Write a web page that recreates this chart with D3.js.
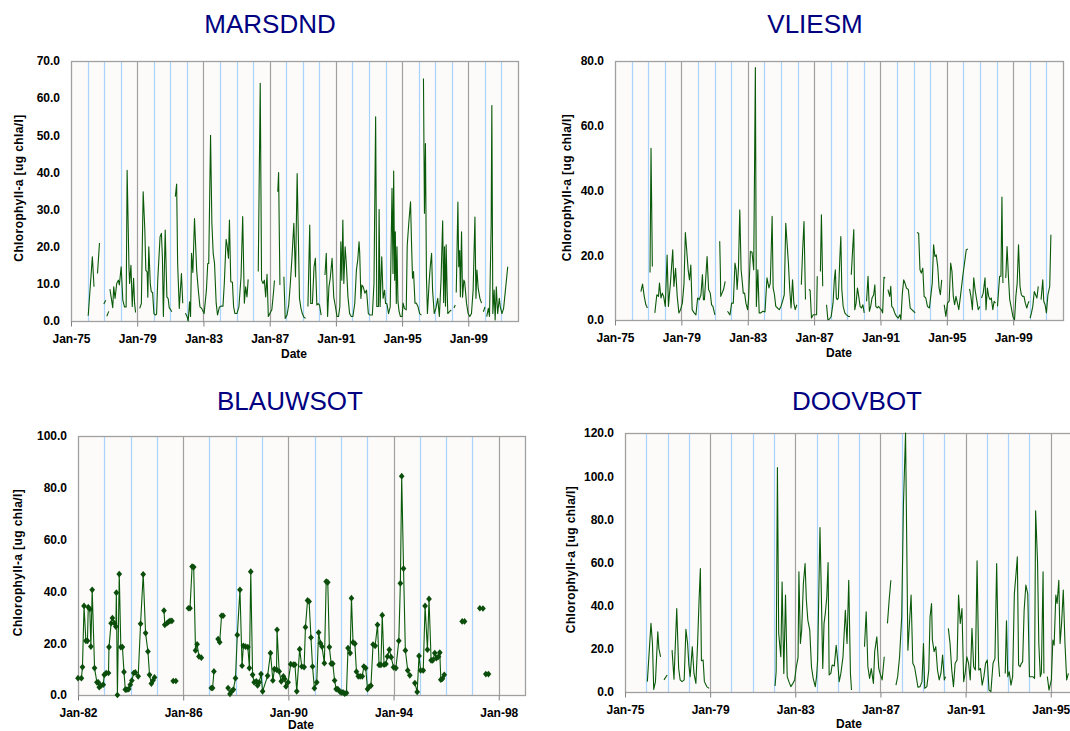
<!DOCTYPE html>
<html>
<head>
<meta charset="utf-8">
<script src="https://cdn.jsdelivr.net/npm/d3@7"></script>
<style>
  body { margin: 0; background: #fff; }
  svg { display: block; font-family: Arial, "Liberation Sans", sans-serif; }
  .tick text { font-size: 12px; font-weight: bold; fill: #000; }
  .tick line { stroke: #808080; }
</style>
</head>
<body>
<svg id="chart" width="1070" height="731"></svg>
<script>
// station series: [decimal year, chlorophyll-a], null = gap in the line
var marsdnd = [
  [1976.04,1.4],[1976.29,17.3],[1976.39,9.2],null,
  [1976.6,12.8],[1976.72,21],null,
  [1976.98,4.6],[1977.1,5.6],null,
  [1977.16,1.3],[1977.28,2.6],null,
  [1977.35,8.6],[1977.52,3.6],[1977.58,9.2],[1977.66,6.1],[1977.76,10.1],[1977.86,11],[1977.92,9.7],[1978.03,14.6],[1978.13,5.6],[1978.23,3.8],[1978.33,3.8],[1978.39,40.6],[1978.5,14.6],[1978.54,10.1],[1978.62,15],[1978.7,3.9],[1978.78,11.5],[1978.84,4.8],[1978.9,2.3],null,
  [1979.15,3.4],[1979.25,4.7],[1979.36,34.8],[1979.46,24.5],[1979.52,13.7],[1979.6,13.2],[1979.64,6.4],[1979.7,20],[1979.79,10],[1979.85,7.9],[1979.93,7.7],[1980.01,2],[1980.09,1.6],[1980.17,1.8],[1980.24,11],[1980.38,22.7],[1980.46,23.6],[1980.52,17.3],[1980.58,1.2],[1980.69,24.5],[1980.79,6.5],[1980.87,6],[1980.93,3.6],[1981.09,2.5],null,
  [1981.3,33.5],[1981.38,36.9],[1981.44,15.5],[1981.54,3.4],[1981.67,12.8],[1981.75,4.8],null,
  [1981.91,2.1],[1982.01,1.2],[1982.08,0],[1982.16,5.2],[1982.22,1.2],[1982.28,18.2],[1982.36,13.1],[1982.46,27.6],[1982.59,13.7],[1982.69,8.3],[1982.79,3.8],[1982.89,3.4],[1983.04,2],[1983.18,8.3],[1983.26,15.5],[1983.32,15.5],[1983.43,50],[1983.51,26.3],[1983.59,18.2],[1983.67,15.5],[1983.77,4.8],[1983.85,1.6],[1983.96,3.7],[1984.06,4],[1984.18,4],[1984.26,10.1],[1984.37,22],[1984.43,20.4],[1984.51,16.9],[1984.57,27.2],[1984.65,10.6],[1984.75,10.4],[1984.82,3.9],[1984.9,2],[1985.02,2],[1985.14,3.8],[1985.27,11.9],[1985.37,28.1],[1985.47,4.8],[1985.55,9.2],[1985.63,6.5],[1985.7,11.2],null,
  [1986.31,13.3],[1986.43,64],[1986.51,11],[1986.6,10.1],[1986.68,11],[1986.76,6.5],[1986.84,12.6],[1986.92,1.2],[1987.02,2.1],[1987.13,3],[1987.23,7.6],[1987.29,10.9],null,
  [1987.49,34.8],[1987.54,40],[1987.62,9.7],null,
  [1987.86,11.9],[1987.94,0.7],[1988.05,1.6],[1988.15,4.3],[1988.25,10.1],[1988.35,17.3],[1988.46,26.3],[1988.56,11.9],[1988.66,39.7],[1988.74,20.9],[1988.8,6.1],[1988.89,3.4],[1988.97,2],[1989.07,1],[1989.17,0.7],null,
  [1989.31,3.9],[1989.42,25.8],[1989.48,4.7],[1989.58,4.7],[1989.68,14.6],[1989.76,16.9],[1989.85,4.3],[1989.93,4.7],[1990.01,4.3],[1990.11,1.6],null,
  [1990.34,12.4],[1990.42,18.2],[1990.5,1.2],[1990.58,9.2],[1990.66,11.5],[1990.77,16.9],[1990.87,6.5],[1990.97,3.9],[1991.07,1.2],[1991.16,1.2],[1991.24,3.9],[1991.3,21.3],[1991.36,11],[1991.42,27.2],[1991.48,10.1],[1991.56,20],[1991.63,15.5],[1991.73,6.5],[1991.83,2],[1991.93,1.2],[1992.03,1.2],[1992.14,4.7],[1992.24,13.7],[1992.32,16.4],[1992.4,21.3],[1992.44,18.2],[1992.51,6.1],[1992.57,9.7],[1992.65,9.2],[1992.75,7.5],[1992.85,8.3],[1992.96,2],[1993.06,1.6],[1993.2,1.6],[1993.3,10.1],[1993.4,55],[1993.47,3.9],[1993.57,3.9],[1993.61,30],[1993.67,3.9],[1993.77,17.3],[1993.85,6.1],[1993.94,8.3],[1994,4.7],[1994.08,4.7],[1994.18,2],[1994.28,3.8],[1994.39,35.7],[1994.45,12.8],[1994.49,40.4],[1994.55,11],[1994.59,24],[1994.65,4.7],[1994.69,20],[1994.75,5.2],[1994.82,2.5],[1994.9,1.2],[1995,1.2],[1995.06,4.8],[1995.14,3.4],[1995.25,3],[1995.31,20.4],[1995.41,26.7],[1995.51,32.1],[1995.57,20.9],[1995.63,11.5],[1995.69,13.3],[1995.78,4.8],[1995.86,4.8],[1995.96,3.9],[1996.06,2],[1996.17,1.6],null,
  [1996.29,65.3],[1996.35,29],[1996.41,47.8],[1996.47,11.9],[1996.53,2],[1996.64,11],[1996.7,14.6],[1996.78,18.2],[1996.84,8.3],[1996.94,2],[1997.04,3.4],[1997.15,6.1],[1997.25,1.2],[1997.35,11],[1997.45,27],[1997.51,5],[1997.56,20],[1997.62,4],[1997.66,20.5],[1997.72,8],[1997.76,2],[1997.86,2.5],[1997.97,3],null,
  [1998.13,3.5],[1998.21,4.3],null,
  [1998.27,7.7],[1998.37,32],[1998.42,14.6],[1998.48,19],[1998.52,6.5],[1998.59,24],[1998.65,6.4],[1998.73,11],[1998.78,10.5],[1998.89,4.8],[1998.99,2],[1999.09,1.2],[1999.19,2],[1999.29,8.3],[1999.4,28],[1999.46,6.1],[1999.52,13.7],[1999.6,8.7],[1999.7,6.1],[1999.8,4.8],null,
  [1999.91,2.5],[2000.01,3.8],null,
  [2000.11,1.2],[2000.21,3.4],[2000.28,1.2],[2000.38,26],[2000.42,58],[2000.48,2],[2000.56,8.3],[2000.62,0.3],[2000.69,9.2],[2000.77,2],[2000.87,6.1],[2000.93,3.8],[2001.03,2],[2001.13,3.4],[2001.24,8.3],[2001.38,14.6]
];

var vliesm = [
  [1976.56,8.8],[1976.66,11.1],[1976.76,7.3],[1976.86,4.7],[1976.95,3.7],null,
  [1977.11,14.7],[1977.17,53],[1977.25,16.5],null,
  [1977.4,2.2],[1977.52,7.8],[1977.62,7.3],[1977.68,11.4],[1977.77,6.8],[1977.85,8.3],[1977.93,7.3],[1978.03,4.2],[1978.14,20.1],[1978.22,4.2],[1978.34,11.4],[1978.48,21.7],[1978.55,10.4],[1978.65,16],[1978.75,7.3],[1978.85,2.2],[1978.95,3.2],[1979.06,5.2],[1979.16,11.4],[1979.24,27],[1979.32,21.7],[1979.41,15.5],[1979.49,12.4],[1979.57,17],[1979.65,3.2],[1979.77,2.2],[1979.88,1.6],[1979.98,6.8],[1980.08,6.3],[1980.18,7.8],[1980.27,14],[1980.33,6.3],[1980.39,6.3],[1980.45,11.4],[1980.55,19.6],[1980.64,9.4],[1980.74,8.3],[1980.82,4.7],[1980.9,4.2],[1981.02,1.6],null,
  [1981.31,24.3],[1981.35,15],[1981.37,7.3],[1981.45,8.3],[1981.54,9.4],[1981.64,11.9],null,
  [1981.78,2.7],[1981.93,1.6],[1982.03,5.2],[1982.13,5.2],[1982.23,17.6],[1982.3,15.5],[1982.36,9.4],[1982.44,16],[1982.52,34],[1982.6,15.5],[1982.66,12.4],[1982.73,8.3],[1982.81,8.3],[1982.89,5.2],[1982.99,3.2],[1983.05,6.3],[1983.16,21.2],[1983.26,20.9],[1983.36,15.5],[1983.46,78],[1983.52,4.2],[1983.61,15.5],[1983.69,2.2],[1983.79,2.2],[1983.91,2.7],[1984.04,2.5],[1984.16,13],[1984.28,9.9],[1984.36,11.4],[1984.47,32],[1984.53,9.9],[1984.61,7.8],[1984.69,4.2],[1984.8,3.7],[1984.9,3.2],[1985,4.2],[1985.1,5.8],[1985.2,7.8],[1985.29,29.9],[1985.37,23.7],[1985.45,17.6],[1985.53,9.4],[1985.61,3.7],[1985.7,12.4],[1985.78,5.2],[1985.86,3.2],[1985.96,4.7],null,
  [1986.23,10.9],[1986.31,21.7],[1986.39,30.4],[1986.48,6.3],null,
  [1986.68,9.4],[1986.76,9.2],[1986.84,0.6],[1986.95,1.6],[1987.05,1.6],[1987.15,1.6],[1987.19,13.5],null,
  [1987.38,15],[1987.44,32.5],[1987.52,10.4],null,
  [1987.75,4.7],[1987.83,0.1],[1987.93,0.3],[1988.03,1.1],[1988.14,5.2],[1988.22,12.4],[1988.28,15.5],[1988.34,6.8],[1988.4,6.3],[1988.46,6.8],[1988.55,19.1],[1988.61,25.8],[1988.67,9.4],[1988.75,4.2],[1988.85,2.2],[1988.95,1.6],[1989.06,1.1],[1989.16,1.1],null,
  [1989.24,14],[1989.32,21.7],[1989.39,27.9],[1989.45,3.2],[1989.53,5.2],[1989.61,9.9],[1989.69,7.3],[1989.77,4.2],[1989.86,3.7],[1989.94,4.7],[1990.02,2.2],null,
  [1990.16,5.8],[1990.25,13.5],[1990.33,2.7],[1990.41,4.2],[1990.49,6.8],[1990.59,7.8],[1990.66,10.9],[1990.72,4.2],[1990.8,3.7],[1990.88,4.2],[1990.96,3.7],[1991.05,3.2],[1991.13,2.2],[1991.21,13.2],[1991.29,13],null,
  [1991.45,9.4],[1991.56,7.3],[1991.62,10.4],[1991.68,4.2],[1991.76,3.7],[1991.86,2.2],[1991.97,1.1],[1992.07,0.6],[1992.17,1.6],[1992.23,0.1],[1992.32,8.3],[1992.4,12.4],[1992.48,11.4],[1992.56,9.9],[1992.68,9.4],[1992.79,3.7],[1992.89,3.2],[1992.99,2.7],[1993.09,2.2],null,
  [1993.2,27],[1993.3,26.8],[1993.38,15.5],[1993.46,14.5],[1993.55,16],[1993.63,7.3],[1993.73,6.8],[1993.83,4.2],[1993.95,3.7],[1994.12,11.4],[1994.2,23.2],[1994.28,19.6],[1994.36,20.1],[1994.45,16.5],[1994.53,9.9],[1994.61,7.8],[1994.69,12.4],null,
  [1994.84,4.7],[1994.94,1.1],[1995.04,5.2],[1995.14,5.8],[1995.23,17.6],[1995.31,15],[1995.39,7.3],[1995.47,4.7],[1995.55,7.3],[1995.64,5.2],[1995.72,3.2],[1995.82,7.3],[1995.96,13.5],[1996.17,21.7],[1996.27,21.9],null,
  [1996.37,9.6],[1996.45,7.3],[1996.54,3.2],[1996.62,13],[1996.7,9.4],[1996.78,6.8],[1996.89,3.2],[1996.99,4.2],null,
  [1997.09,6.8],[1997.19,8.3],[1997.3,13],[1997.36,3.2],[1997.44,9.9],[1997.52,7.3],[1997.6,6.3],[1997.68,6.8],[1997.77,3.2],[1997.85,5.8],[1997.93,5.2],null,
  [1998.05,4.2],[1998.18,13.5],[1998.26,13.5],[1998.32,38],[1998.38,11.4],null,
  [1998.55,13],[1998.63,22.7],[1998.71,13.5],[1998.79,6.3],[1998.87,4.2],[1998.98,1.1],[1999.08,0.1],[1999.16,7.3],[1999.24,11.4],[1999.32,23.2],[1999.41,10.4],[1999.49,7.8],[1999.57,7.3],[1999.65,7.3],[1999.73,5.2],[1999.82,3.7],[1999.9,5.2],[1999.96,5.8],null,
  [2000.02,0.6],[2000.1,2.2],[2000.18,4.2],[2000.27,8.8],[2000.35,7.8],[2000.43,6.8],[2000.51,10.4],null,
  [2000.68,6.3],[2000.78,12.4],[2000.84,5.8],[2000.92,4.7],[2001,2.2],[2001.09,7.8],[2001.2,10.4],[2001.27,26.3]
];

var blauwsot = [
  [1982,6.5],[1982.13,6.5],[1982.17,10.8],[1982.23,34.4],[1982.3,20.9],[1982.36,20.9],[1982.39,33.9],[1982.45,33.2],[1982.49,18.7],[1982.54,40.6],[1982.63,10.4],[1982.72,4.9],[1982.77,4.9],[1982.81,3],[1982.87,3.6],[1982.96,4],[1983,7.8],[1983.07,8.5],[1983.16,8.5],[1983.18,18.5],[1983.26,27.7],[1983.31,29.7],[1983.39,27.7],[1983.44,26.4],[1983.46,39.5],[1983.5,0],[1983.57,46.7],[1983.63,18.5],[1983.69,18.5],[1983.75,8.9],[1983.8,2.1],[1983.86,2.1],[1983.93,2.3],[1983.99,4],[1984.05,5.6],[1984.12,8.5],[1984.18,8.7],[1984.29,7.2],[1984.38,27.5],[1984.48,46.6],[1984.57,23.9],[1984.66,16.8],[1984.72,7.8],[1984.79,4.4],[1984.85,5.6],[1984.91,6.8],null,
  [1985.27,32.6],[1985.3,27.1],[1985.38,27.7],[1985.44,28.2],[1985.5,28.6],[1985.57,28.6],null,
  [1985.62,5.4],[1985.72,5.4],null,
  [1986.2,33.5],[1986.26,33.5],[1986.34,49.6],[1986.4,49.4],[1986.47,17.2],[1986.53,19.6],[1986.6,14.9],[1986.69,14.4],null,
  [1987.07,2.7],[1987.12,2.7],[1987.17,9.1],null,
  [1987.33,21.6],[1987.39,20.4],[1987.46,30.6],[1987.52,30.6],null,
  [1987.71,2.7],[1987.78,0.4],[1987.84,1.4],[1987.91,2.1],[1987.99,6.5],[1988.06,23.2],[1988.16,40.6],[1988.24,11.3],[1988.29,19],[1988.37,18.7],[1988.46,18.5],[1988.52,10.4],[1988.57,47.6],[1988.64,7.8],[1988.7,4.9],[1988.78,5.3],[1988.83,3.7],[1988.89,4.9],[1988.96,8.1],[1989.02,1.4],
  [1989.21,7.4],[1989.32,16.2],[1989.41,5.6],[1989.47,10],[1989.55,9.8],[1989.57,25.2],[1989.65,9.1],[1989.73,5.3],[1989.81,7.2],[1989.86,6.2],[1989.91,3.3],[1989.99,4.9],
  [1990.09,11.9],[1990.19,11.7],[1990.25,11.7],[1990.32,1.4],[1990.43,17.7],[1990.51,11],[1990.6,10.8],[1990.65,26.2],[1990.73,36.5],[1990.79,36.1],[1990.86,22.2],[1990.92,11],[1990.99,2.6],[1991.08,4.9],[1991.15,24.1],[1991.22,20],[1991.28,18.7],[1991.37,12.3],[1991.44,43.8],[1991.5,43.5],[1991.56,18.5],[1991.63,12.1],[1991.69,12.1],[1991.76,5.6],[1991.82,2.3],[1991.88,2.3],[1991.95,1.4],[1992.01,1],[1992.08,1],[1992.14,0.5],[1992.21,0.8],[1992.27,18.1],[1992.35,16.2],[1992.4,37.4],[1992.46,20.3],[1992.53,19.8],[1992.59,9],[1992.66,7.2],[1992.73,7.2],[1992.81,7.2],[1992.87,11],[1992.94,10.4],[1993.01,2.3],[1993.07,3.1],[1993.14,3.6],[1993.22,19.5],[1993.3,19],[1993.39,27.1],[1993.45,11.6],[1993.52,11.6],[1993.57,30.8],[1993.64,11.7],[1993.71,12],[1993.77,14.9],[1993.84,17.5],[1993.91,14.6],[1994,10.7],[1994.09,10.4],[1994.2,20.9],[1994.26,43.1],[1994.31,84.5],[1994.38,48.8],[1994.45,17.2],[1994.54,9.5],[1994.62,7.6],null,
  [1994.81,4.6],[1994.9,1.2],[1994.97,15.1],[1995.03,9.5],[1995.13,9.5],[1995.2,34.4],[1995.29,17.5],[1995.35,37.1],[1995.43,13.4],[1995.49,13.4],[1995.57,16.2],[1995.63,14.2],[1995.71,14.8],[1995.76,16.4],[1995.8,5.9],[1995.86,6.3],[1995.93,7.8],null,
  [1996.61,28.4],[1996.7,28.4],null,
  [1997.28,33.5],[1997.4,33.4],null,
  [1997.51,8.1],[1997.61,8.1]
];

var doovbot = [
  [1976.05,4.8],[1976.22,31.8],[1976.29,22.5],[1976.35,1.2],[1976.43,4.8],[1976.54,27.9],[1976.59,20.2],[1976.67,16.3],null,
  [1976.83,5.6],[1976.98,7.9],null,
  [1977.21,19.4],[1977.3,5.9],[1977.43,38.7],[1977.52,10.9],[1977.59,5.6],[1977.68,4.8],[1977.78,5.6],[1977.86,29],[1977.94,22.5],[1978,12.5],[1978.06,7.1],[1978.16,21],[1978.24,8.6],[1978.33,4],[1978.41,22.5],[1978.48,42.6],[1978.54,57.2],[1978.59,14.5],[1978.67,14.8],[1978.73,4.8],[1978.84,2.5],[1978.95,1.7],null,
  [1982.05,2.8],[1982.1,9.4],[1982.16,104],[1982.22,27.1],[1982.32,16.3],[1982.38,51],[1982.46,8.6],[1982.54,44.9],[1982.62,7.1],[1982.7,4.8],[1982.79,2.5],[1982.89,4],[1982.97,5.6],[1983.05,11.7],[1983.13,16],[1983.17,55.7],[1983.24,22.5],[1983.3,28.7],[1983.38,50.3],[1983.46,59.5],[1983.52,42.6],[1983.59,33.3],[1983.68,28.7],[1983.76,11.7],[1983.84,6.3],[1983.94,2.5],[1984,7.1],[1984.05,14.8],[1984.16,76.2],[1984.22,47.2],[1984.29,10.9],[1984.35,31.8],[1984.41,36.4],[1984.48,44.1],[1984.54,60],[1984.59,7.9],[1984.67,8.6],[1984.73,12.5],[1984.83,12],[1984.92,21.6],[1984.98,15.6],[1985.06,4.8],[1985.14,8.6],[1985.24,16.3],[1985.35,37.9],[1985.43,22.5],[1985.51,51.8],[1985.59,8.6],[1985.64,0.9],null,
  [1986.25,21],[1986.33,37.2],[1986.41,11.7],[1986.49,6.3],[1986.57,10.9],[1986.67,4],[1986.73,18.7],[1986.83,25.6],[1986.92,10.9],[1986.98,8.6],[1987.08,5.6],[1987.18,16.3],null,
  [1987.33,31.8],[1987.41,42.6],[1987.49,51.8],null,
  [1987.73,3.2],[1987.81,7.1],[1987.9,16.3],[1988,34.8],[1988.08,86.5],[1988.18,120],[1988.29,19.4],[1988.35,29.5],[1988.44,44.9],[1988.52,13.3],[1988.6,11.7],[1988.68,7.1],[1988.76,2.2],[1988.86,2.5],[1988.95,4.8],[1989.02,22.5],[1989.08,1.7],[1989.18,2.5],[1989.27,10.2],[1989.33,34.8],[1989.4,41],[1989.44,24.1],[1989.52,18.7],[1989.6,21],[1989.68,10.2],[1989.76,5.6],[1989.84,8.6],[1989.92,17.1],[1990,5.6],[1990.06,7.1],null,
  [1990.19,29.5],[1990.27,22.5],[1990.35,10.2],[1990.43,2.5],[1990.51,13.3],[1990.6,14.8],[1990.67,44.9],[1990.75,31.8],[1990.83,38.7],[1990.91,4.8],[1990.98,8.6],[1991.06,16.3],[1991.14,13.3],[1991.22,5.6],[1991.3,29.5],[1991.38,11.7],[1991.46,10.2],[1991.54,60.8],[1991.62,10.2],[1991.7,10.9],[1991.78,3.2],[1991.86,7.1],[1991.94,13.3],[1992.02,14.8],[1992.1,0.9],[1992.19,0.2],[1992.29,13.3],[1992.38,15.6],[1992.46,59.5],[1992.54,14.8],[1992.6,7.1],null,
  [1992.86,8.6],[1992.92,33],[1992.98,7.1],[1993.05,9.4],[1993.13,3.2],[1993.21,7.1],[1993.29,45.6],[1993.37,54.9],[1993.43,62.6],[1993.49,12.5],[1993.56,11.7],[1993.62,13.3],[1993.68,14],[1993.75,37.9],[1993.83,49.5],[1993.92,45.6],[1994,7.1],[1994.08,7.1],[1994.16,7.1],[1994.24,6.3],[1994.29,83.9],[1994.38,60.3],[1994.44,22.5],[1994.51,7.1],[1994.56,8.6],[1994.64,55.7],[1994.68,8.6],null,
  [1994.84,7.1],[1994.92,0.9],[1995.03,5.6],[1995.1,24.1],[1995.16,21.7],[1995.24,44.9],[1995.3,41],[1995.38,51.8],[1995.44,22.5],[1995.51,31.8],[1995.59,47.2],[1995.67,22.5],[1995.75,5.6],[1995.83,8.6]
];

var stations = ["MARSDND", "VLIESM", "BLAUWSOT", "DOOVBOT"];
var series = [marsdnd, vliesm, blauwsot, doovbot];
var yMaxes = [70, 80, 100, 120];
var ySteps = [10, 20, 20, 20];
var startYears = [1975, 1975, 1982, 1975];
var endYears = [2002, 2002, 1999, 1996];

// layout of each panel (pixels)
var layout = [
  {x0: 71,  x1: 518,  y0: 61,  y1: 321, titleX: 270, titleY: 33,  yTitleX: 19,  dateX: 294, dateDy: 37},
  {x0: 615, x1: 1063, y0: 61,  y1: 320, titleX: 815, titleY: 33,  yTitleX: 567, dateX: 839, dateDy: 37},
  {x0: 78,  x1: 525,  y0: 436, y1: 695, titleX: 290, titleY: 410, yTitleX: 18,  dateX: 301, dateDy: 34},
  {x0: 625, x1: 1072, y0: 433, y1: 692, titleX: 857, titleY: 410, yTitleX: 571, dateX: 849, dateDy: 36}
];

function toDate(y) {
  var yr = Math.floor(y);
  var s = new Date(yr, 0, 1), e = new Date(yr + 1, 0, 1);
  return new Date(+s + (y - yr) * (e - s));
}

var svg = d3.select("#chart");
svg.append("rect").attr("width", 1070).attr("height", 731).attr("fill", "#fff");

stations.forEach(function(name, i) {
  var L = layout[i];
  var x = d3.scaleTime()
      .domain([new Date(startYears[i], 0, 1), new Date(endYears[i], 0, 1)])
      .range([L.x0, L.x1]);
  var y = d3.scaleLinear().domain([0, yMaxes[i]]).range([L.y1, L.y0]);

  var g = svg.append("g");

  // plot area
  g.append("rect")
      .attr("x", L.x0).attr("y", L.y0)
      .attr("width", L.x1 - L.x0).attr("height", L.y1 - L.y0)
      .attr("fill", "#fcfbf9");

  // yearly gridlines: blue every year, grey at the labelled ones
  var years = d3.range(startYears[i] + 1, endYears[i]);
  g.selectAll("line.grid")
    .data(years)
    .enter()
    .append("line")
      .attr("x1", function(d) { return Math.round(x(new Date(d, 0, 1))) + 0.5; })
      .attr("x2", function(d) { return Math.round(x(new Date(d, 0, 1))) + 0.5; })
      .attr("y1", L.y0).attr("y2", L.y1)
      .attr("stroke", function(d) { return (d - startYears[i]) % 4 === 0 ? "#a0a0a0" : "#a9d3fb"; })
      .attr("stroke-width", 1.2);

  g.append("rect")
      .attr("x", L.x0 + 0.5).attr("y", L.y0 + 0.5)
      .attr("width", L.x1 - L.x0).attr("height", L.y1 - L.y0)
      .attr("fill", "none")
      .attr("stroke", "#a0a0a0")
      .attr("stroke-width", 1.3);

  // axes
  var ticks = d3.range(startYears[i], endYears[i] + 1, 4).map(function(d) { return new Date(d, 0, 1); });
  var xAxis = g.append("g")
      .attr("transform", "translate(0," + (L.y1 + 0.5) + ")")
      .call(d3.axisBottom(x).tickValues(ticks).tickFormat(d3.timeFormat("%b-%y")).tickSize(5).tickPadding(8));
  xAxis.select(".domain").remove();

  var yAxis = g.append("g")
      .attr("transform", "translate(" + L.x0 + ",0)")
      .call(d3.axisLeft(y).tickValues(d3.range(0, yMaxes[i] + 1, ySteps[i])).tickFormat(d3.format(".1f")).tickSize(0).tickPadding(11));
  yAxis.select(".domain").remove();

  // series
  var clipId = "clip" + i;
  svg.append("clipPath").attr("id", clipId)
    .append("rect")
      .attr("x", L.x0).attr("y", L.y0 - 1)
      .attr("width", L.x1 - L.x0).attr("height", L.y1 - L.y0 + 2);

  var line = d3.line()
      .defined(function(d) { return d != null; })
      .x(function(d) { return x(toDate(d[0])); })
      .y(function(d) { return y(d[1]); });

  g.append("path")
      .datum(series[i])
      .attr("clip-path", "url(#" + clipId + ")")
      .attr("fill", "none")
      .attr("stroke", "#0a5a0a")
      .attr("stroke-width", 1.1)
      .attr("stroke-linejoin", "round")
      .attr("d", line);

  // BLAUWSOT has point markers (small flat diamonds)
  if (name === "BLAUWSOT") {
    g.selectAll("path.pt")
      .data(series[i].filter(function(d) { return d != null; }))
      .enter()
      .append("path")
        .attr("class", "pt")
        .attr("transform", function(d) { return "translate(" + x(toDate(d[0])) + "," + y(d[1]) + ") scale(1.25,0.85)"; })
        .attr("d", d3.symbol().type(d3.symbolDiamond).size(18))
        .attr("fill", "#0b4d0b");
  }

  // titles
  g.append("text")
      .attr("x", L.titleX).attr("y", L.titleY)
      .attr("text-anchor", "middle")
      .attr("font-size", 26)
      .attr("fill", "#000080")
      .text(name);

  g.append("text")
      .attr("transform", "translate(" + L.yTitleX + "," + ((L.y0 + L.y1) / 2 - 3) + ") rotate(-90)")
      .attr("text-anchor", "middle")
      .attr("dy", "0.35em")
      .attr("font-size", 12)
      .attr("font-weight", "bold")
      .attr("letter-spacing", "0.4px")
      .text("Chlorophyll-a [ug chla/l]");

  g.append("text")
      .attr("x", L.dateX).attr("y", L.y1 + L.dateDy)
      .attr("text-anchor", "middle")
      .attr("font-size", 12)
      .attr("font-weight", "bold")
      .text("Date");
});
</script>
</body>
</html>
